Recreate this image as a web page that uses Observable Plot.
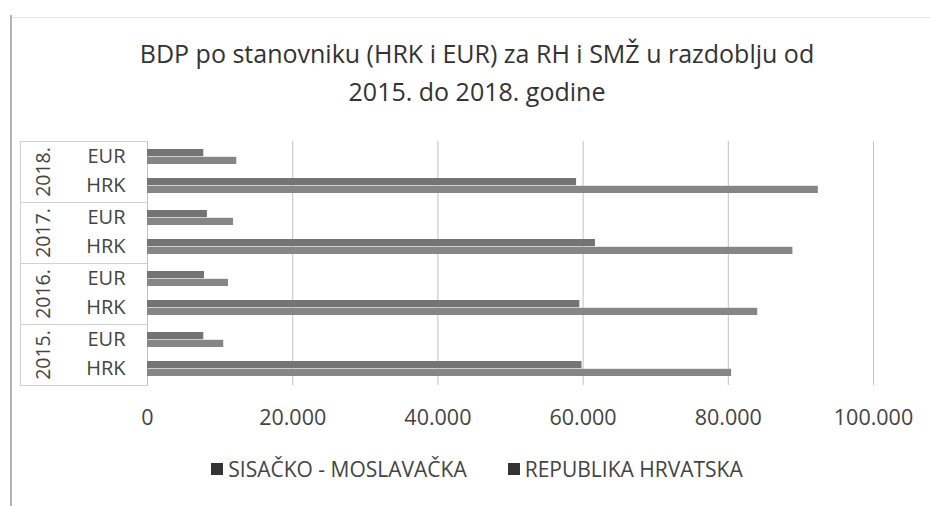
<!DOCTYPE html>
<html>
<head>
<meta charset="utf-8">
<script src="https://cdn.jsdelivr.net/npm/d3@7"></script>
<script src="https://cdn.jsdelivr.net/npm/@observablehq/plot@0.6"></script>
<style>
  html, body { margin: 0; padding: 0; background: #fff; }
  #wrap { position: relative; width: 930px; height: 506px; overflow: hidden; font-family: "Open Sans", sans-serif; }
  #frameL { position: absolute; left: 10px; top: 15px; bottom: 0; width: 2px; background: #b4b4b4; }
  #frameT { position: absolute; left: 12px; right: 0; top: 17px; height: 1px; background: #e4e4e4; }
  #title { position: absolute; left: 24px; width: 906px; top: 34px; text-align: center; font-size: 25px; line-height: 38px; color: #333; }
  #chart { position: absolute; left: 0; top: 125px; }
  #legend { position: absolute; left: 24px; width: 906px; top: 455px; display: flex; justify-content: center; align-items: center; font-size: 21px; color: #444; }
  .item { display: flex; align-items: center; }
  .item + .item { margin-left: 41px; }
  .sw { width: 12px; height: 12px; margin-right: 5px; }
</style>
</head>
<body>
<div id="wrap">
  <div id="frameL"></div>
  <div id="frameT"></div>
  <div id="title">BDP po stanovniku (HRK i EUR) za RH i SMŽ u razdoblju od<br>2015. do 2018. godine</div>
  <div id="chart"></div>
  <div id="legend"></div>
</div>
<script>
// Years (top to bottom as shown), currencies, series
const years = ["2018.", "2017.", "2016.", "2015."];
const currencies = ["EUR", "HRK"];
const seriesNames = ["SISAČKO - MOSLAVAČKA", "REPUBLIKA HRVATSKA"];
const seriesColors = ["#747474", "#868686"];
const legendColors = ["#333333", "#333333"];

// Values ordered by years array (2018., 2017., 2016., 2015.)
const smzHRK = [59100, 61700, 59550, 59850];
const rhHRK  = [92400, 88900, 84050, 80450];
const smzEUR = [7750, 8250, 7850, 7750];
const rhEUR  = [12300, 11850, 11150, 10500];

const xTicks = [0, 20000, 40000, 60000, 80000, 100000];

const rows = [];
years.forEach((yr, i) => {
  rows.push({year: yr, currency: "EUR", series: seriesNames[0], value: smzEUR[i]});
  rows.push({year: yr, currency: "EUR", series: seriesNames[1], value: rhEUR[i]});
  rows.push({year: yr, currency: "HRK", series: seriesNames[0], value: smzHRK[i]});
  rows.push({year: yr, currency: "HRK", series: seriesNames[1], value: rhHRK[i]});
});

const fmt = d3.formatLocale({decimal: ",", thousands: ".", grouping: [3], currency: ["", ""]}).format(",");

const half = 7.8;

const plot = Plot.plot({
  width: 930,
  height: 310,
  marginLeft: 147,
  marginRight: 57,
  marginTop: 15,
  marginBottom: 50,
  style: {fontFamily: "Open Sans, sans-serif", fontSize: "20px", color: "#444444", background: "transparent", overflow: "visible"},
  x: {domain: [0, 100000]},
  y: {domain: currencies, paddingInner: 0.47, paddingOuter: 0.26},
  fy: {domain: years, padding: 0, axis: null},
  marks: [
    Plot.frame({insetLeft: -127, insetRight: 726, stroke: "#d2d2d2"}),
    Plot.gridX(xTicks, {stroke: "#c2c2c2", strokeOpacity: 1}),
    Plot.barX(rows.filter(d => d.series === seriesNames[1]), {
      x: "value", y: "currency", fy: "year", fill: seriesColors[1], insetTop: half
    }),
    Plot.barX(rows.filter(d => d.series === seriesNames[0]), {
      x: "value", y: "currency", fy: "year", fill: seriesColors[0], insetBottom: half
    }),
    Plot.axisY({tickSize: 0, tickPadding: 22, fontSize: 20, label: null}),
    Plot.axisX({ticks: xTicks, tickSize: 0, tickPadding: 24, fontSize: 21.5, label: null, tickFormat: fmt}),
    Plot.text(years, {fy: d => d, text: d => d, frameAnchor: "left", textAnchor: "middle", lineAnchor: "middle", rotate: -90, dx: -104, fontSize: 19.5, fill: "#444444"})
  ]
});
document.getElementById("chart").appendChild(plot);

const legend = document.getElementById("legend");
seriesNames.forEach((name, i) => {
  const item = document.createElement("div");
  item.className = "item";
  const sw = document.createElement("div");
  sw.className = "sw";
  sw.style.background = legendColors[i];
  const label = document.createElement("span");
  label.textContent = name;
  item.appendChild(sw);
  item.appendChild(label);
  legend.appendChild(item);
});
</script>
</body>
</html>
